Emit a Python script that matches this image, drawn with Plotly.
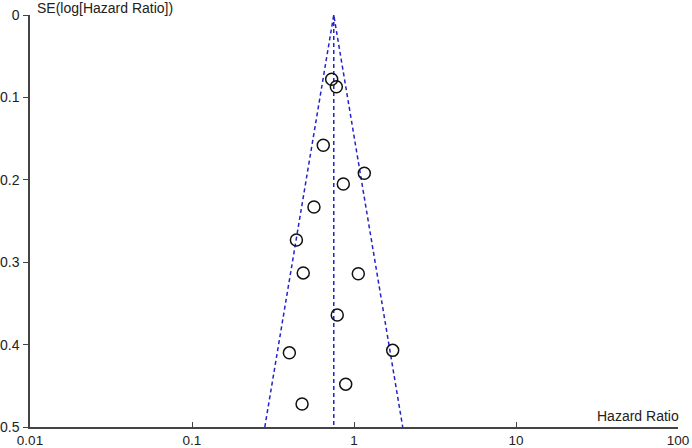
import numpy as np
import plotly.graph_objects as go

# Study data
hazard_ratio = [0.728, 0.778, 0.646, 1.158, 0.859, 0.566, 0.441, 0.486, 1.063, 0.788, 0.399, 1.733, 0.889, 0.478]
se_log_hr = [0.078, 0.087, 0.158, 0.192, 0.205, 0.233, 0.273, 0.313, 0.314, 0.364, 0.410, 0.407, 0.448, 0.472]
summary_hr = 0.75
se_max = 0.5
x_tickvals = [0.01, 0.1, 1, 10, 100]
x_ticktext = ["0.01", "0.1", "1", "10", "100"]
y_tickvals = [0, 0.1, 0.2, 0.3, 0.4, 0.5]
y_ticktext = ["0", "0.1", "0.2", "0.3", "0.4", "0.5"]

# Pseudo 95% confidence limits of the funnel
lo = summary_hr * np.exp(-1.96 * se_max)
hi = summary_hr * np.exp(1.96 * se_max)

line_style = dict(color="#2323c8", width=1.5, dash="4px,3px")

fig = go.Figure()
fig.add_trace(go.Scatter(x=[lo, summary_hr, hi], y=[se_max, 0, se_max], mode="lines",
                         line=line_style, hoverinfo="skip", showlegend=False, cliponaxis=False))
fig.add_trace(go.Scatter(x=[summary_hr, summary_hr], y=[0, se_max], mode="lines",
                         line=line_style, hoverinfo="skip", showlegend=False, cliponaxis=False))
fig.add_trace(go.Scatter(x=hazard_ratio, y=se_log_hr, mode="markers",
                         marker=dict(symbol="circle-open", size=12, color="#111111",
                                     line=dict(width=1.5, color="#111111")),
                         showlegend=False, cliponaxis=False))

fig.update_layout(
    width=692, height=448,
    margin=dict(l=30, r=14, t=15, b=21),
    paper_bgcolor="white", plot_bgcolor="white",
    font=dict(family="Liberation Sans, Arial, sans-serif", size=14, color="#222222"),
    xaxis=dict(type="log", range=[-2, 2], tickvals=x_tickvals, ticktext=x_ticktext,
               showgrid=False, zeroline=False, showline=True, linecolor="#444444", linewidth=1.5,
               ticks="inside", ticklen=5, tickcolor="#444444", tickwidth=1.2,
               ticklabelstandoff=0, automargin=False, tickfont=dict(size=13.5)),
    yaxis=dict(range=[se_max, 0], tickvals=y_tickvals, ticktext=y_ticktext,
               showgrid=False, zeroline=False, showline=True, linecolor="#444444", linewidth=1.5,
               ticks="outside", ticklen=5, tickcolor="#444444", tickwidth=1.2,
               ticklabelstandoff=1, automargin=False, tickfont=dict(size=14)),
    annotations=[
        dict(text="SE(log[Hazard Ratio])", xref="paper", yref="paper", x=0, y=1,
             xanchor="left", yanchor="middle", xshift=5, yshift=7, showarrow=False,
             font=dict(size=14)),
        dict(text="Hazard Ratio", xref="paper", yref="paper", x=1, y=0,
             xanchor="right", yanchor="bottom", xshift=3, yshift=1, showarrow=False,
             font=dict(size=14)),
    ],
)

fig.write_html("out.html", config={"displayModeBar": False},
               post_script="document.body.style.margin='0';document.body.style.overflow='hidden';")
